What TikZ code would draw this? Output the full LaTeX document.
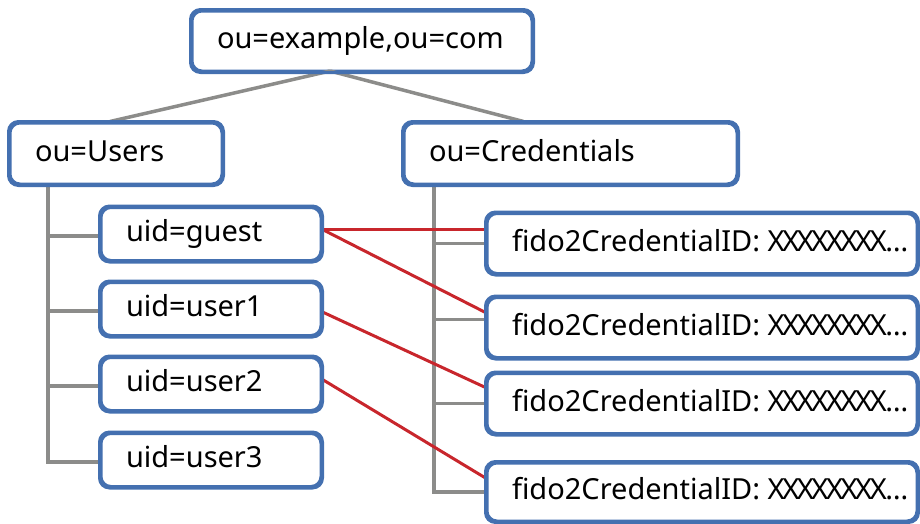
\documentclass[tikz,border=0pt]{standalone}
\usepackage{fontspec}
\setmainfont{Noto Sans}
\usetikzlibrary{calc}
\definecolor{boxblue}{RGB}{68,112,176}
\definecolor{treegray}{RGB}{140,140,138}
\definecolor{linkred}{RGB}{200,38,44}
\newcommand{\tstrut}{\rule[-8pt]{0pt}{31pt}}
\newcommand{\xk}{X\kern-2.4pt}
\newcommand{\boxtext}[2]{\makebox[#1pt][l]{\tstrut #2}}
\begin{document}
\begin{tikzpicture}[x=1pt,y=-1pt,
  box/.style={draw=boxblue, line width=3pt, rounded corners=10pt, fill=white,
    inner xsep=25pt, inner ysep=0pt,
    font=\fontsize{29}{32}\selectfont},
  tree/.style={draw=treegray, line width=3.5pt},
  link/.style={draw=linkred, line width=3pt}]
\useasboundingbox (0,0) rectangle (920,523);
% nodes
\node[box, minimum width=340pt, minimum height=60pt] (root) at (362,41) {\boxtext{290}{ou=example,ou=com}};
\node[box, minimum width=212pt, minimum height=61pt] (users) at (116,153.5) {\boxtext{162}{ou=Users}};
\node[box, minimum width=333pt, minimum height=61pt] (creds) at (570.5,153.5) {\boxtext{283}{ou=Credentials}};
\foreach \n/\t/\y in {guest/guest/234, user1/user1/309, user2/user2/384, user3/user3/460}{
  \node[box, minimum width=220pt, minimum height=53pt] (\n) at (211,\y) {\boxtext{170}{uid=\t}};
}
\foreach \n/\y/\h in {f1/243.5/60, f2/327.5/60, f3/403.5/60, f4/492/58}{
  \node[box, minimum width=430pt, minimum height=\h pt] (\n) at (702,\y) {\boxtext{380}{fido2CredentialID: \xk\xk\xk\xk\xk\xk\xk X\kern-1.5pt…}};
}
% coordinates
\coordinate (rt) at (330,71);
\coordinate (ut) at (48,184);
\coordinate (ct) at (434,184);
\coordinate (ua) at ($(users.north)+(-6,0)$);
\coordinate (ca) at ($(creds.north)+(-47,0)$);
\foreach \n in {guest,user1,user2,user3}{
  \coordinate (\n-b) at ($(\n.west)+(0,2)$);
}
\coordinate (f2-b) at ($(f2.west)+(0,-8)$);
% tree edges
\draw[tree] (rt) -- (ua);
\draw[tree] (rt) -- (ca);
\draw[tree] (ut) -- (ut |- user3-b) -- (user3-b);
\foreach \n in {guest,user1,user2}{
  \draw[tree] (ut |- \n-b) -- (\n-b);
}
\draw[tree] (ct) -- (ct |- f4.west) -- (f4.west);
\draw[tree] (ct |- f1.west) -- (f1.west);
\draw[tree] (ct |- f2-b) -- (f2-b);
\draw[tree] (ct |- f3.west) -- (f3.west);
% links
\coordinate (g-o) at ($(guest.east)+(0,-4.5)$);
\draw[link] (g-o) -- ($(f1.west)+(0,-14)$);
\draw[link] (g-o) -- ($(f2.west)+(0,-15)$);
\draw[link] ($(user1.east)+(0,3)$) -- ($(f3.west)+(0,-16)$);
\draw[link] ($(user2.east)+(0,-4.5)$) -- ($(f4.west)+(0,-14)$);
% redraw box outlines on top
\foreach \n in {root,users,creds,guest,user1,user2,user3,f1,f2,f3,f4}{
  \draw[draw=boxblue, line width=3pt, rounded corners=10pt] (\n.north west) rectangle (\n.south east);
}
\end{tikzpicture}
\end{document}
